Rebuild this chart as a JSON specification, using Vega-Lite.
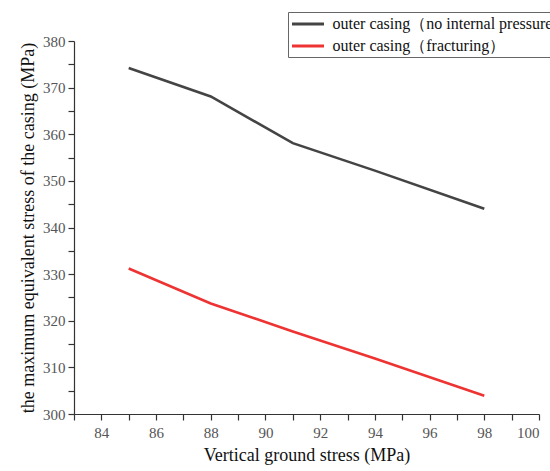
{
  "$schema": "https://vega.github.io/schema/vega-lite/v6.json",
  "width": 465,
  "height": 373,
  "autosize": {"type": "none"},
  "padding": {"left": 74, "top": 41, "right": 11, "bottom": 57},
  "background": "white",
  "config": {
    "view": {"stroke": null},
    "font": "Liberation Serif",
    "axis": {"grid": false, "domainColor": "#333", "tickColor": "#333", "labelColor": "#555", "titleColor": "#111", "labelFont": "Liberation Serif", "titleFont": "Liberation Serif", "titleFontWeight": "normal", "labelFontSize": 15, "titleFontSize": 18, "tickSize": 6, "domainWidth": 1.2, "tickWidth": 1.2}
  },
  "data": {
    "values": [
      {"x": 85, "y": 374.2, "series": "outer casing（no internal pressure）"},
      {"x": 88, "y": 368.1, "series": "outer casing（no internal pressure）"},
      {"x": 91, "y": 358.1, "series": "outer casing（no internal pressure）"},
      {"x": 94, "y": 352.2, "series": "outer casing（no internal pressure）"},
      {"x": 98, "y": 344.0, "series": "outer casing（no internal pressure）"},
      {"x": 85, "y": 331.2, "series": "outer casing（fracturing）"},
      {"x": 88, "y": 323.7, "series": "outer casing（fracturing）"},
      {"x": 91, "y": 317.7, "series": "outer casing（fracturing）"},
      {"x": 94, "y": 311.9, "series": "outer casing（fracturing）"},
      {"x": 98, "y": 303.9, "series": "outer casing（fracturing）"}
    ]
  },
  "mark": {"type": "line", "strokeWidth": 2.6},
  "encoding": {
    "x": {
      "field": "x", "type": "quantitative",
      "scale": {"domain": [83, 100], "nice": false, "zero": false},
      "axis": {
        "title": "Vertical ground stress (MPa)",
        "values": [83,84,85,86,87,88,89,90,91,92,93,94,95,96,97,98,99,100],
        "labelExpr": "datum.value % 2 == 0 ? datum.label : ''",
        "labelPadding": 5,
        "titlePadding": 6
      }
    },
    "y": {
      "field": "y", "type": "quantitative",
      "scale": {"domain": [300, 380], "nice": false, "zero": false},
      "axis": {
        "title": "the maximum equivalent stress of the casing (MPa)",
        "values": [300,305,310,315,320,325,330,335,340,345,350,355,360,365,370,375,380],
        "labelExpr": "datum.value % 10 == 0 ? datum.label : ''",
        "labelPadding": 3,
        "titlePadding": 5
      }
    },
    "color": {
      "field": "series", "type": "nominal",
      "scale": {"domain": ["outer casing（no internal pressure）", "outer casing（fracturing）"], "range": ["#444444", "#ee3333"]},
      "legend": {
        "title": null,
        "orient": "none",
        "legendX": 214,
        "legendY": -29,
        "symbolType": "M-2,0H2",
        "symbolSize": 256,
        "symbolStrokeWidth": 3,
        "symbolOffset": 8,
        "labelFont": "Liberation Serif",
        "labelFontSize": 16,
        "labelColor": "#111",
        "labelLimit": 400,
        "rowPadding": 4,
        "padding": 2.5,
        "strokeColor": "#666",
        "fillColor": "white",
        "labelOffset": 15
      }
    }
  }
}
